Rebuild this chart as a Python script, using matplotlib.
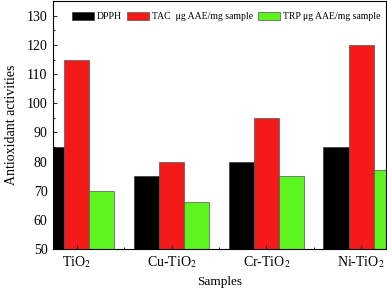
import numpy as np
import matplotlib.pyplot as plt

plt.rcParams['font.family'] = ['Liberation Serif', 'DejaVu Serif']
plt.rcParams['mathtext.fontset'] = 'stix'

samples = ['TiO$_2$', 'Cu-TiO$_2$', 'Cr-TiO$_2$', 'Ni-TiO$_2$']
dpph = [85, 75, 80, 85]
tac = [115, 80, 95, 120]
trp = [70, 66, 75, 77]

x = np.arange(len(samples))
w = 0.265

fig = plt.figure(figsize=(3.87, 2.91), dpi=100)
ax = fig.add_axes([0.137, 0.144, 0.86, 0.852])

ax.bar(x - w, dpph, w, color='black', edgecolor='#333333', linewidth=0.5, label='DPPH')
ax.bar(x, tac, w, color='#f41a1a', edgecolor='#555555', linewidth=0.5, label='TAC  μg AAE/mg sample')
ax.bar(x + w, trp, w, color='#5cf520', edgecolor='#555555', linewidth=0.5, label='TRP μg AAE/mg sample')

ax.set_xlim(-0.25, 3.26)
ax.set_ylim(50, 135)
ax.set_xticks(x)
ax.set_xticklabels(samples)
ax.set_xticks(x[:-1] + 0.5, minor=True)
ax.set_yticks(np.arange(50, 131, 10))
ax.set_yticks(np.arange(55, 135, 10), minor=True)
ax.tick_params(direction='in', labelsize=10, length=3, width=0.6, pad=4)
ax.tick_params(which='minor', direction='in', length=1.5, width=0.6)
for s in ax.spines.values():
    s.set_linewidth(0.8)

ax.set_xlabel('Samples', fontsize=9.5, labelpad=4)
ax.set_ylabel('Antioxidant activities', fontsize=10, labelpad=6)

ax.legend(loc='upper left', bbox_to_anchor=(0.05, 0.965), ncol=3, frameon=False,
          fontsize=7, handlelength=2.3, handleheight=1.0, columnspacing=0.5,
          handletextpad=0.3, borderaxespad=0, borderpad=0.2)

fig.savefig('out.png', dpi=100)
